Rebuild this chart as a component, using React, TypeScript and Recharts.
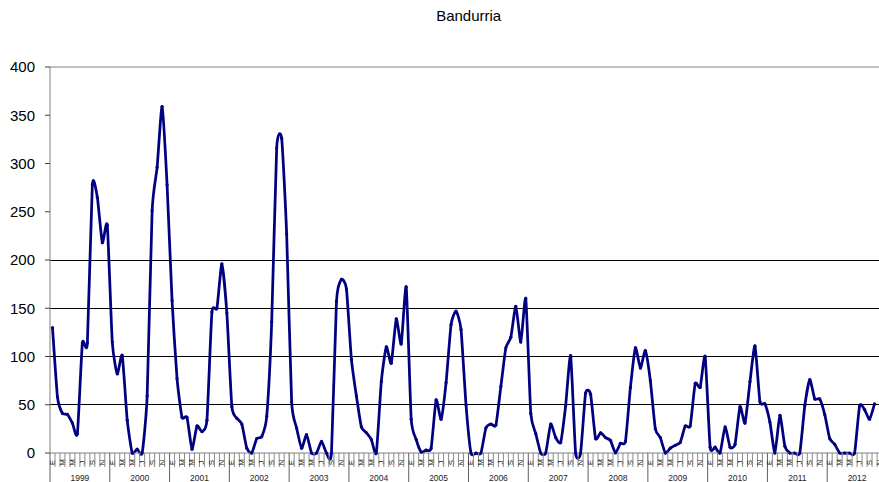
import React from 'react';
import { LineChart, Line, XAxis, YAxis, CartesianGrid, ReferenceLine } from 'recharts';

const TITLE = 'Bandurria';
const YEARS = ['1999', '2000', '2001', '2002', '2003', '2004', '2005', '2006', '2007', '2008', '2009', '2010', '2011', '2012'];
const MONTH_INITIALS = ['E', 'F', 'M', 'A', 'M', 'J', 'J', 'A', 'S', 'O', 'N', 'D'];

const V1999 = [130, 58, 41, 40, 31, 20, 114, 114, 278, 265, 218, 236];
const V2000 = [115, 82, 101, 34, 0, 4, 0, 59, 251, 296, 359, 278];
const V2001 = [158, 77, 37, 37, 4, 28, 22, 34, 146, 150, 196, 145];
const V2002 = [48, 36, 30, 5, 0, 15, 17, 38, 136, 316, 326, 227];
const V2003 = [53, 26, 5, 19, 0, 0, 12, 0, 0, 157, 180, 170];
const V2004 = [97, 59, 27, 21, 14, 0, 74, 110, 93, 139, 113, 172];
const V2005 = [35, 14, 1, 3, 5, 55, 35, 73, 133, 147, 128, 50];
const V2006 = [0, 0, 0, 26, 30, 29, 69, 109, 120, 152, 115, 160];
const V2007 = [41, 20, 0, 0, 30, 16, 11, 49, 101, 0, 0, 62];
const V2008 = [61, 15, 21, 16, 13, 0, 10, 12, 68, 109, 88, 106];
const V2009 = [75, 25, 16, 0, 5, 8, 11, 28, 28, 72, 68, 100];
const V2010 = [6, 6, 0, 27, 6, 9, 48, 31, 74, 111, 53, 51];
const V2011 = [32, 0, 39, 7, 0, 0, 0, 49, 76, 56, 56, 40];
const V2012 = [15, 9, 0, 0, 0, 0, 49, 45, 35, 51];

const YEAR_VALUES = [V1999, V2000, V2001, V2002, V2003, V2004, V2005, V2006, V2007, V2008, V2009, V2010, V2011, V2012];

const Y_TICKS = [0, 50, 100, 150, 200, 250, 300, 350, 400];
const GRID_VALUES = [50, 100, 150, 200];
const N_MONTHS = YEARS.length * 12;

const DATA = YEAR_VALUES.flat().map((v, i) => ({ t: i + 0.5, value: v }));
const X_TICKS: number[] = [];
for (let k = 0; k <= N_MONTHS * 2; k++) X_TICKS.push(k / 2);

const FONT = '"Liberation Sans", Arial, sans-serif';
const SMOOTH = 0.09;

// Excel-like smoothed line (cardinal spline through Bezier segments)
function excelSmooth(context: any) {
  let pts: number[][] = [];
  return {
    areaStart() {},
    areaEnd() {},
    lineStart() {
      pts = [];
    },
    lineEnd() {
      const n = pts.length;
      if (n === 0) return;
      context.moveTo(pts[0][0], pts[0][1]);
      for (let i = 0; i < n - 1; i++) {
        const p0 = pts[i - 1] || pts[i];
        const p1 = pts[i];
        const p2 = pts[i + 1];
        const p3 = pts[i + 2] || p2;
        context.bezierCurveTo(
          p1[0] + (p2[0] - p0[0]) * SMOOTH,
          p1[1] + (p2[1] - p0[1]) * SMOOTH,
          p2[0] - (p3[0] - p1[0]) * SMOOTH,
          p2[1] - (p3[1] - p1[1]) * SMOOTH,
          p2[0],
          p2[1]
        );
      }
    },
    point(x: number, y: number) {
      pts.push([+x, +y]);
    },
  };
}

function MonthTick(props: any) {
  const { x, y, payload } = props;
  const v = payload.value as number;
  if (Number.isInteger(v)) {
    const isYear = v % 12 === 0;
    const yearIdx = Math.floor(v / 12);
    return (
      <g>
        <line x1={x} y1={y} x2={x} y2={y + (isYear ? 29 : 14)} stroke={isYear ? '#606060' : '#8a8a8a'} strokeWidth={1} />
        {v % 12 === 6 && yearIdx < YEARS.length ? (
          <text x={x} y={y + 27.5} textAnchor="middle" fontSize={8.5} fill="#222" fontFamily={FONT}>
            {YEARS[yearIdx]}
          </text>
        ) : null}
      </g>
    );
  }
  const m = Math.floor(v) % 12;
  if (m % 2 !== 0) return <g />;
  const cy = y + 9.5;
  return (
    <text
      x={x}
      y={cy}
      transform={`rotate(-90, ${x}, ${cy})`}
      textAnchor="middle"
      dominantBaseline="central"
      fontSize={8}
      fill="#222"
      fontFamily={FONT}
    >
      {MONTH_INITIALS[m]}
    </text>
  );
}

export default function App() {
  return (
    <div
      style={{
        position: 'absolute',
        left: 0,
        top: 0,
        width: 879,
        height: 482,
        overflow: 'hidden',
        background: '#fff',
        fontFamily: FONT,
      }}
    >
      <div
        style={{
          position: 'absolute',
          left: 468.7,
          top: 8,
          transform: 'translateX(-50%)',
          fontSize: 15,
          lineHeight: '15px',
          whiteSpace: 'nowrap',
          color: '#000',
        }}
      >
        {TITLE}
      </div>
      <div style={{ position: 'absolute', left: 0, top: 0 }}>
        <LineChart width={887} height={482} data={DATA} margin={{ top: 67, right: 0, bottom: 0, left: 0 }}>
          <CartesianGrid
            vertical={false}
            horizontal={true}
            horizontalValues={GRID_VALUES}
            stroke="#000"
            strokeWidth={1}
            shapeRendering="crispEdges"
          />
          <XAxis
            type="number"
            dataKey="t"
            domain={[0, N_MONTHS]}
            ticks={X_TICKS}
            interval={0}
            tickLine={false}
            tickSize={0}
            tickMargin={0}
            height={29}
            allowDataOverflow
            axisLine={{ stroke: '#808080', strokeWidth: 1 }}
            tick={(p: any) => <MonthTick {...p} />}
          />
          <YAxis
            type="number"
            domain={[0, 400]}
            ticks={Y_TICKS}
            interval={0}
            width={50}
            tickSize={5}
            tickMargin={10}
            axisLine={{ stroke: '#808080', strokeWidth: 1 }}
            tickLine={{ stroke: '#404040', strokeWidth: 1 }}
            tick={{ fill: '#000', fontSize: 15, fontFamily: FONT }}
          />
          <ReferenceLine y={400} stroke="#808080" strokeWidth={1} />
          <Line
            type={excelSmooth as any}
            dataKey="value"
            stroke="#000080"
            strokeWidth={2.75}
            dot={{ r: 1.6, fill: '#000080', stroke: 'none' }}
            activeDot={false}
            isAnimationActive={false}
          />
        </LineChart>
      </div>
    </div>
  );
}
